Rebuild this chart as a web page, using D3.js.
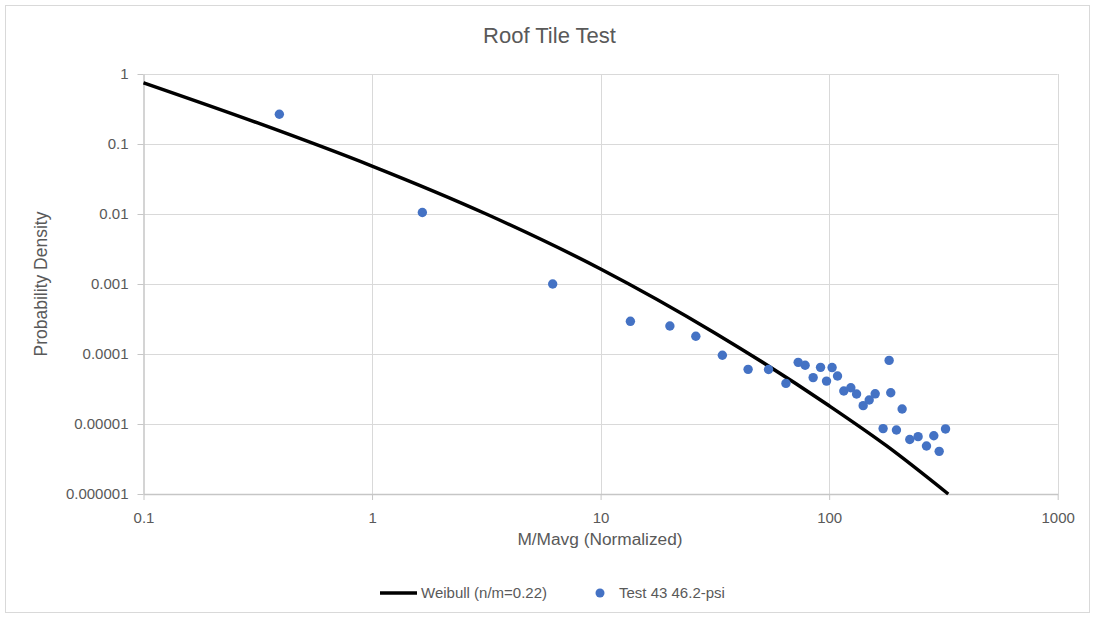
<!DOCTYPE html>
<html>
<head>
<meta charset="utf-8">
<script src="https://cdn.jsdelivr.net/npm/d3@7"></script>
<style>
  body { margin: 0; background: #fff; }
  svg { display: block; }
  text { font-family: "Liberation Sans", Arial, sans-serif; fill: #595959; }
</style>
</head>
<body>
<svg id="chart" width="1094" height="617"></svg>
<script>
// ---- Data ----
const xTicks = [0.1, 1, 10, 100, 1000];
const xTickLabels = ["0.1", "1", "10", "100", "1000"];
const yTicks = [1, 0.1, 0.01, 0.001, 0.0001, 0.00001, 0.000001];
const yTickLabels = ["1", "0.1", "0.01", "0.001", "0.0001", "0.00001", "0.000001"];

// Weibull (n/m=0.22) curve
const weibullX = [0.1, 0.316, 1, 3.16, 10, 31.6, 100, 178, 332];
const weibullY = [0.75, 0.2, 0.0484, 0.01, 0.00164, 0.0002, 0.0000182, 0.0000049, 0.000001];

// Test 43 46.2-psi scatter points
const testX = [0.393, 1.66, 6.17, 13.5, 20.1, 26.1, 34.1, 44.2, 54.3, 64.7, 73.2, 78.5, 85.1, 91.7, 97.4, 103, 108.8, 115.9, 124.4, 131.8, 140.9, 149.7, 159, 172.2, 183, 186, 197, 208.6, 225.3, 245, 266.6, 287, 303, 323];
const testY = [0.266, 0.0105, 0.001, 0.000293, 0.000251, 0.000179, 0.000096, 0.0000604, 0.00006, 0.000038, 0.000076, 0.000069, 0.000046, 0.0000645, 0.000041, 0.000064, 0.0000485, 0.0000296, 0.000033, 0.0000268, 0.0000183, 0.000022, 0.000027, 0.0000086, 0.000081, 0.000028, 0.0000082, 0.0000164, 0.000006, 0.0000066, 0.00000485, 0.0000068, 0.00000407, 0.0000085];

const titleText = "Roof Tile Test";
const xTitle = "M/Mavg (Normalized)";
const yTitle = "Probability Density";
const seriesNames = ["Weibull (n/m=0.22)", "Test 43 46.2-psi"];

// ---- Drawing ----
const svg = d3.select("#chart");
const W = 1094, H = 617;
const plot = { left: 143.5, right: 1057.7, top: 74, bottom: 494 };

const x = d3.scaleLog().domain([0.1, 1000]).range([plot.left, plot.right]);
const y = d3.scaleLog().domain([1e-6, 1]).range([plot.bottom, plot.top]);

svg.append("rect").attr("x", 0).attr("y", 0).attr("width", W).attr("height", H).attr("fill", "#fff");
svg.append("rect").attr("x", 5.5).attr("y", 5.5).attr("width", 1084).attr("height", 607)
  .attr("fill", "none").attr("stroke", "#d9d9d9").attr("stroke-width", 1);

// gridlines
const grid = svg.append("g");
grid.selectAll("line.h").data(yTicks.slice(0, -1)).join("line")
  .attr("x1", plot.left).attr("x2", plot.right)
  .attr("y1", d => Math.round(y(d)) + 0.5).attr("y2", d => Math.round(y(d)) + 0.5)
  .attr("stroke", "#d9d9d9").attr("stroke-width", 1);
grid.selectAll("line.v").data(xTicks.slice(1)).join("line")
  .attr("x1", d => Math.round(x(d)) + 0.5).attr("x2", d => Math.round(x(d)) + 0.5)
  .attr("y1", plot.top).attr("y2", plot.bottom)
  .attr("stroke", "#d9d9d9").attr("stroke-width", 1);

// axes
const xAxis = d3.axisBottom(x).tickValues(xTicks).tickFormat((d, i) => xTickLabels[i]).tickSizeInner(6).tickSizeOuter(0).tickPadding(12);
const gx = svg.append("g").attr("transform", `translate(0,${plot.bottom})`).call(xAxis);
gx.select(".domain").attr("stroke", "#c6c6c6").attr("stroke-width", 1.5);
gx.selectAll(".tick line").attr("stroke", "#c6c6c6");
gx.selectAll(".tick text").attr("font-size", 15).attr("fill", "#595959")
  .attr("font-family", "Liberation Sans, Arial, sans-serif");

const yAxis = d3.axisLeft(y).tickValues(yTicks).tickFormat((d, i) => yTickLabels[i]).tickSizeInner(6).tickSizeOuter(0).tickPadding(9);
const gy = svg.append("g").attr("transform", `translate(${plot.left},0)`).call(yAxis);
gy.select(".domain").attr("stroke", "#c6c6c6").attr("stroke-width", 1.5);
gy.selectAll(".tick line").attr("stroke", "#c6c6c6");
gy.selectAll(".tick text").attr("font-size", 15).attr("fill", "#595959")
  .attr("font-family", "Liberation Sans, Arial, sans-serif");

// Weibull curve
const curveData = weibullX.map((d, i) => [d, weibullY[i]]);
const line = d3.line().x(d => x(d[0])).y(d => y(d[1])).curve(d3.curveMonotoneX);
svg.append("path").datum(curveData).attr("d", line)
  .attr("fill", "none").attr("stroke", "#000").attr("stroke-width", 3.5);

// scatter points
const pts = testX.map((d, i) => [d, testY[i]]);
svg.append("g").selectAll("circle").data(pts).join("circle")
  .attr("cx", d => x(d[0])).attr("cy", d => y(d[1])).attr("r", 4.7)
  .attr("fill", "#4472C4");

// titles
svg.append("text").attr("x", 549.5).attr("y", 43).attr("text-anchor", "middle")
  .attr("font-size", 22).text(titleText);
svg.append("text").attr("x", 600).attr("y", 545).attr("text-anchor", "middle")
  .attr("font-size", 17.3).text(xTitle);
svg.append("text").attr("transform", `translate(47,${(plot.top + plot.bottom) / 2}) rotate(-90)`)
  .attr("text-anchor", "middle").attr("font-size", 17.5).text(yTitle);

// legend
const lg = svg.append("g");
lg.append("line").attr("x1", 380).attr("x2", 417).attr("y1", 593).attr("y2", 593)
  .attr("stroke", "#000").attr("stroke-width", 3.5);
lg.append("text").attr("x", 421).attr("y", 598).attr("font-size", 15).text(seriesNames[0]);
lg.append("circle").attr("cx", 600).attr("cy", 593).attr("r", 4.5).attr("fill", "#4472C4");
lg.append("text").attr("x", 619).attr("y", 598).attr("font-size", 15).text(seriesNames[1]);
</script>
</body>
</html>
